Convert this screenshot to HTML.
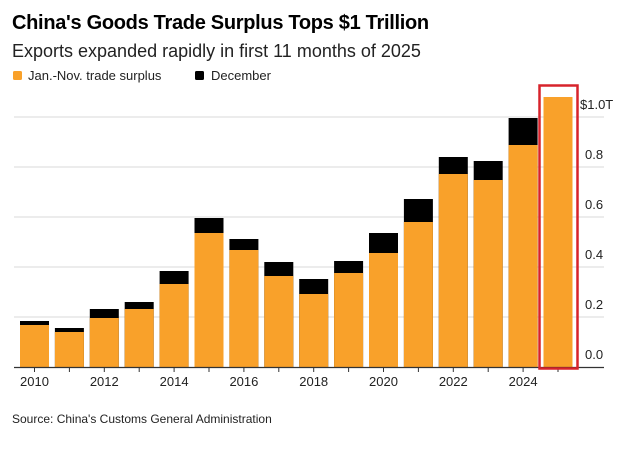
<!DOCTYPE html>
<html><head><style>
body{margin:0;background:#fff;width:624px;height:444px;overflow:hidden;font-family:"Liberation Sans",sans-serif}
</style></head><body>
<svg width="624" height="444" xmlns="http://www.w3.org/2000/svg" font-family="Liberation Sans, sans-serif">
<text x="12" y="29" font-size="20" font-weight="bold" fill="#000" letter-spacing="-0.3">China's Goods Trade Surplus Tops $1 Trillion</text>
<text x="12" y="57" font-size="18" fill="#222">Exports expanded rapidly in first 11 months of 2025</text>
<rect x="13" y="71" width="9" height="9" rx="1.5" fill="#f9a12a"/>
<text x="28" y="80" font-size="13" fill="#222">Jan.-Nov. trade surplus</text>
<rect x="195" y="71" width="9" height="9" rx="1.5" fill="#000"/>
<text x="211" y="80" font-size="13" fill="#222">December</text>
<g stroke="#d9d9d9" stroke-width="1">
<line x1="14" x2="604" y1="117" y2="117"/><line x1="14" x2="604" y1="167" y2="167"/>
<line x1="14" x2="604" y1="217" y2="217"/><line x1="14" x2="604" y1="267" y2="267"/>
<line x1="14" x2="604" y1="317" y2="317"/>
</g>
<g font-size="13" fill="#222">
<text x="580" y="109">$1.0T</text><text x="585" y="159">0.8</text><text x="585" y="209">0.6</text>
<text x="585" y="259">0.4</text><text x="585" y="309">0.2</text><text x="585" y="359">0.0</text>
</g>
<g fill="#000">
<rect x="20" y="321" width="29" height="46"/>
<rect x="54.9" y="328" width="29" height="39"/>
<rect x="89.8" y="309" width="29" height="58"/>
<rect x="124.7" y="302" width="29" height="65"/>
<rect x="159.6" y="271" width="29" height="96"/>
<rect x="194.5" y="218" width="29" height="149"/>
<rect x="229.4" y="239" width="29" height="128"/>
<rect x="264.3" y="262" width="29" height="105"/>
<rect x="299.2" y="279" width="29" height="88"/>
<rect x="334.1" y="261" width="29" height="106"/>
<rect x="369" y="233" width="29" height="134"/>
<rect x="403.9" y="199" width="29" height="168"/>
<rect x="438.8" y="157" width="29" height="210"/>
<rect x="473.7" y="161" width="29" height="206"/>
<rect x="508.6" y="118" width="29" height="249"/>
</g>
<g fill="#f9a12a">
<rect x="20" y="325" width="29" height="42"/>
<rect x="54.9" y="332" width="29" height="35"/>
<rect x="89.8" y="318" width="29" height="49"/>
<rect x="124.7" y="309" width="29" height="58"/>
<rect x="159.6" y="284" width="29" height="83"/>
<rect x="194.5" y="233" width="29" height="134"/>
<rect x="229.4" y="250" width="29" height="117"/>
<rect x="264.3" y="276" width="29" height="91"/>
<rect x="299.2" y="294" width="29" height="73"/>
<rect x="334.1" y="273" width="29" height="94"/>
<rect x="369" y="253" width="29" height="114"/>
<rect x="403.9" y="222" width="29" height="145"/>
<rect x="438.8" y="174" width="29" height="193"/>
<rect x="473.7" y="180" width="29" height="187"/>
<rect x="508.6" y="145" width="29" height="222"/>
<rect x="543.5" y="97" width="29" height="270"/>
</g>
<line x1="14" x2="604" y1="367.5" y2="367.5" stroke="#333" stroke-width="1.2"/>
<g stroke="#333" stroke-width="1">
<line x1="34.5" x2="34.5" y1="367" y2="372"/><line x1="69.4" x2="69.4" y1="367" y2="372"/>
<line x1="104.3" x2="104.3" y1="367" y2="372"/><line x1="139.2" x2="139.2" y1="367" y2="372"/>
<line x1="174.1" x2="174.1" y1="367" y2="372"/><line x1="209" x2="209" y1="367" y2="372"/>
<line x1="243.9" x2="243.9" y1="367" y2="372"/><line x1="278.8" x2="278.8" y1="367" y2="372"/>
<line x1="313.7" x2="313.7" y1="367" y2="372"/><line x1="348.6" x2="348.6" y1="367" y2="372"/>
<line x1="383.5" x2="383.5" y1="367" y2="372"/><line x1="418.4" x2="418.4" y1="367" y2="372"/>
<line x1="453.3" x2="453.3" y1="367" y2="372"/><line x1="488.2" x2="488.2" y1="367" y2="372"/>
<line x1="523.1" x2="523.1" y1="367" y2="372"/><line x1="558" x2="558" y1="367" y2="372"/>
</g>
<rect x="539.5" y="85.5" width="38" height="283" fill="none" stroke="#d7232b" stroke-width="2.5"/>
<g font-size="13" fill="#222" text-anchor="middle">
<text x="34.5" y="386">2010</text><text x="104.3" y="386">2012</text><text x="174.1" y="386">2014</text>
<text x="243.9" y="386">2016</text><text x="313.7" y="386">2018</text><text x="383.5" y="386">2020</text>
<text x="453.3" y="386">2022</text><text x="523.1" y="386">2024</text>
</g>
<text x="12" y="423" font-size="12" fill="#222">Source: China's Customs General Administration</text>
</svg>
</body></html>
